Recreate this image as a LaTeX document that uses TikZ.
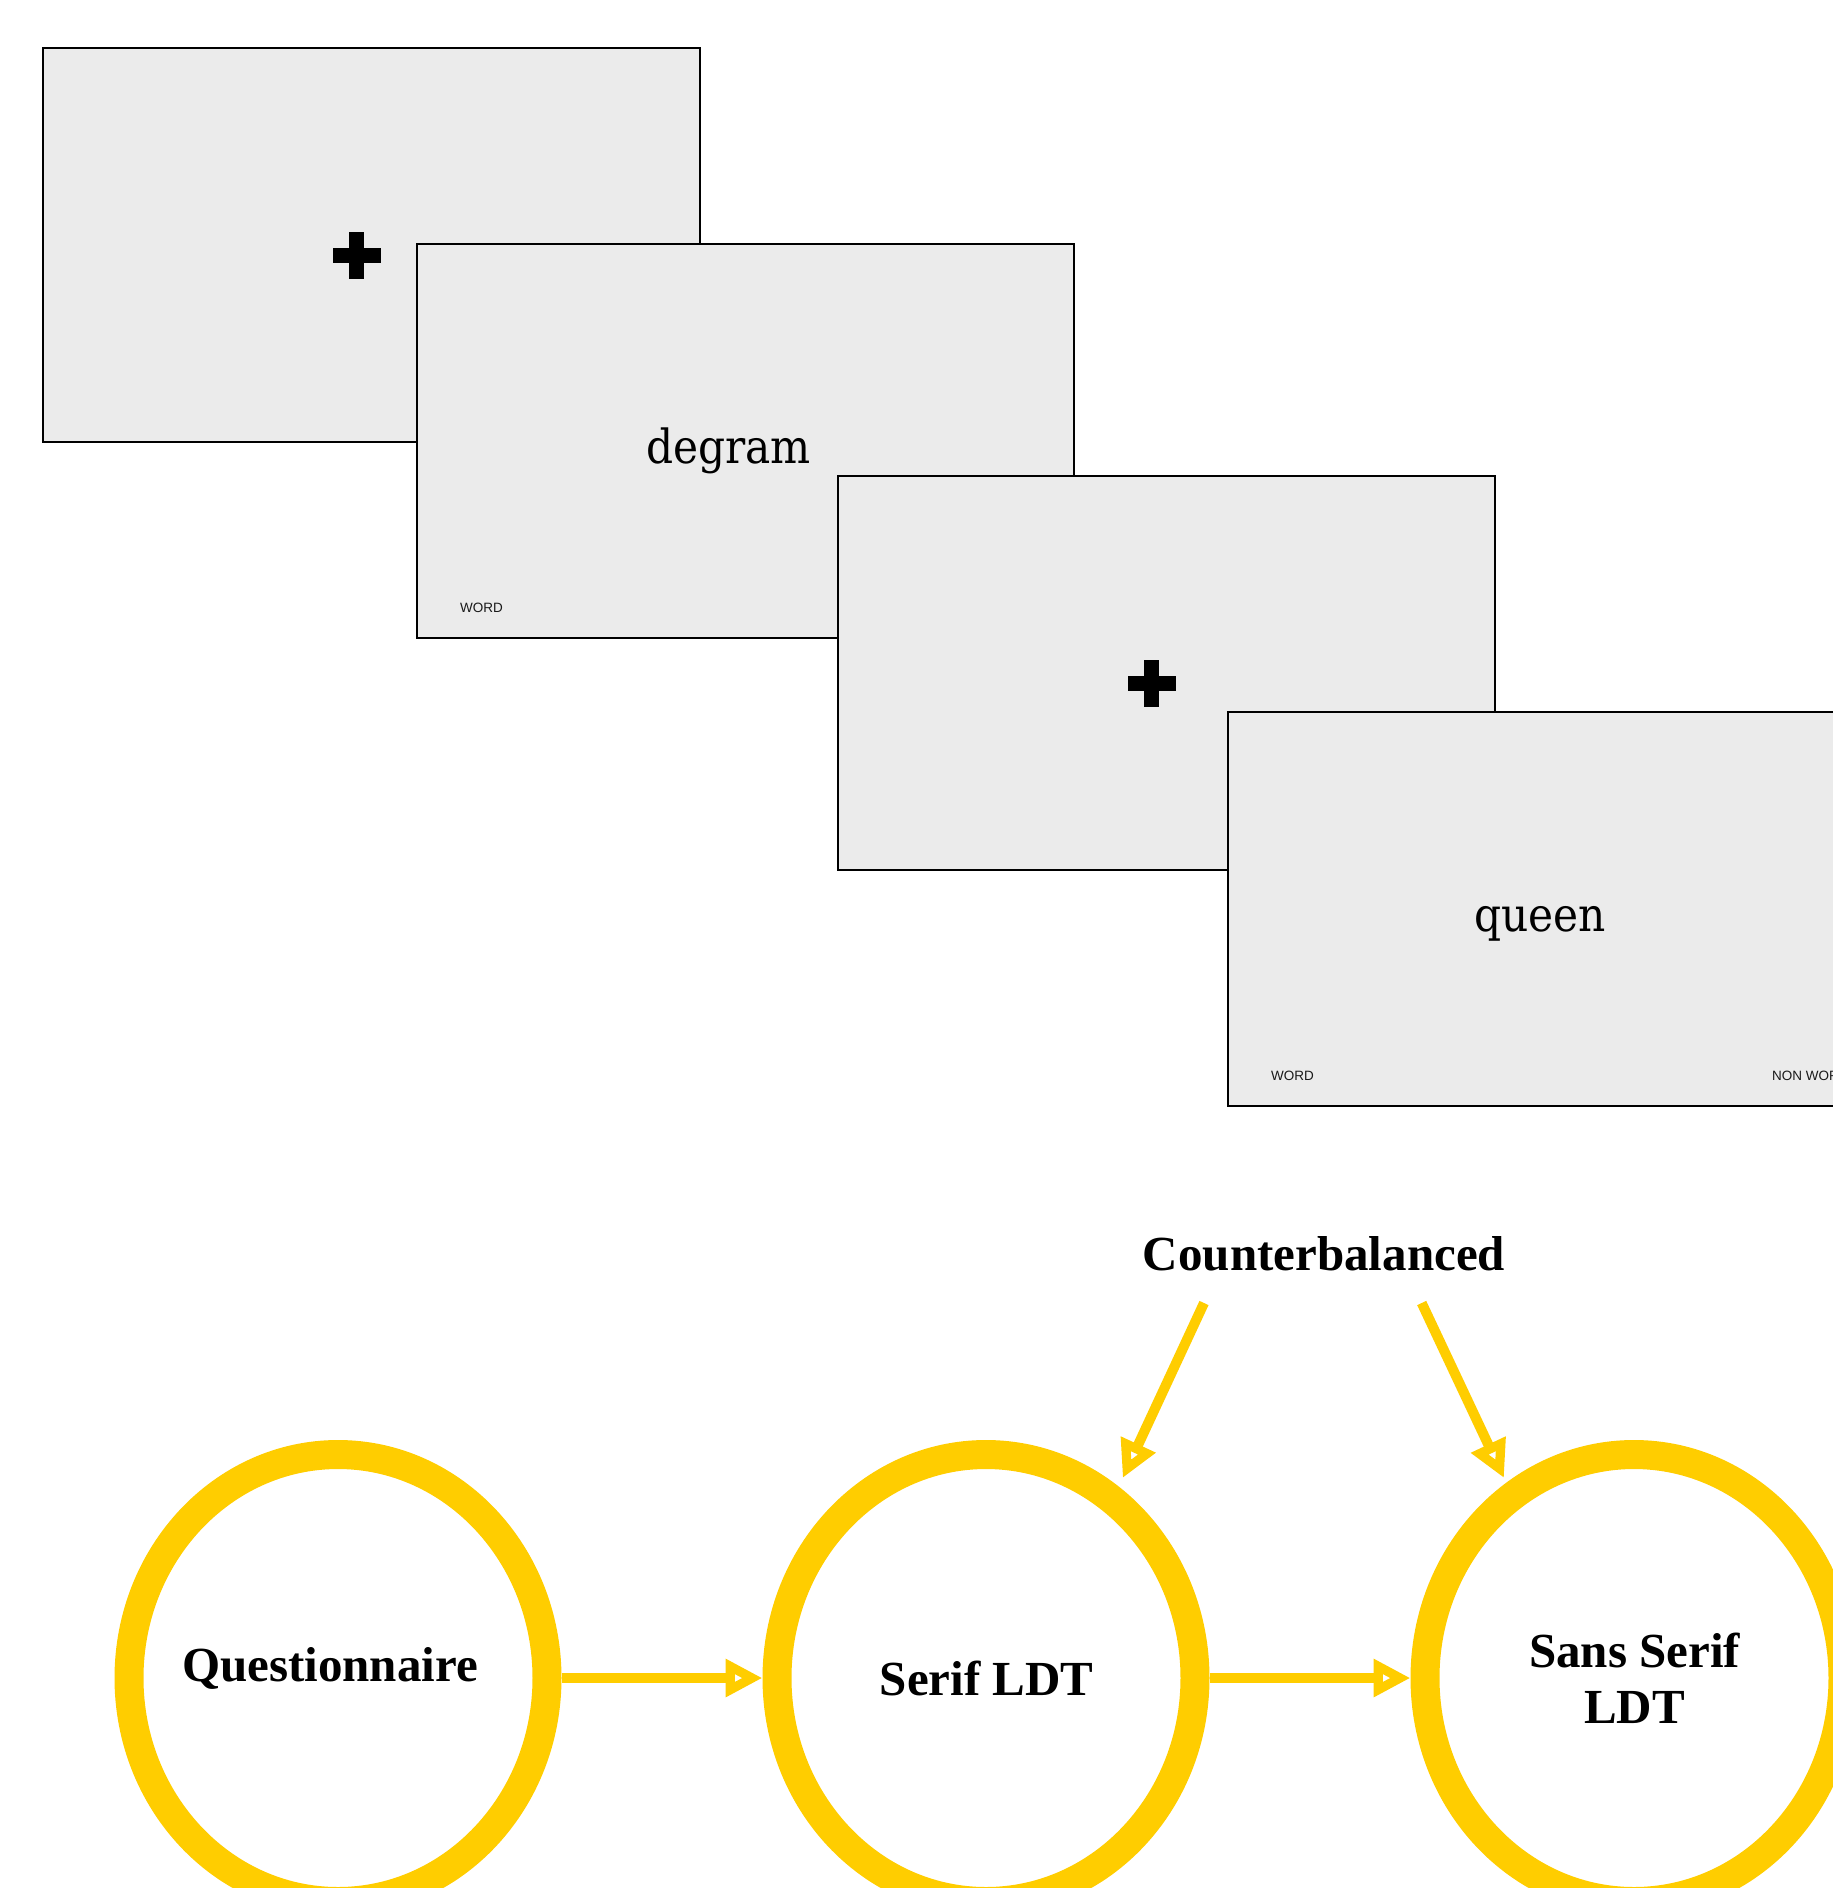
\documentclass[tikz,border=0pt]{standalone}
\usepackage{fontspec}
\setmainfont{Liberation Serif}
\newfontfamily\slidefont{DejaVu Serif Condensed}
\newfontfamily\uifont{Liberation Sans}
\usetikzlibrary{arrows.meta,shapes.geometric}
\definecolor{ylw}{HTML}{FFCD00}
\definecolor{slidegray}{HTML}{EBEBEB}
\begin{document}
\begin{tikzpicture}[x=1pt,y=-1pt,
  slide/.style={draw=black,line width=2pt,fill=slidegray,minimum width=657pt,minimum height=394pt,inner sep=0pt,anchor=north west},
  stim/.style={font=\slidefont\fontsize{47}{56}\selectfont,anchor=base,inner sep=0pt},
  resp/.style={font=\uifont\fontsize{13.5}{16}\selectfont,anchor=west,inner sep=0pt,text=black!90},
  stage/.style={draw=ylw,line width=29pt,ellipse,minimum width=418pt,minimum height=447pt,inner sep=0pt},
  lbl/.style={font=\bfseries\fontsize{49}{56}\selectfont,inner sep=0pt,align=center},
  flow/.style={draw=ylw,line width=10pt,-{Triangle[open,length=37pt,width=36pt]}},
]
\clip (0,0) rectangle (1833,1888);
\fill[white] (0,0) rectangle (1833,1888);
% slide 1
\node[slide] (b1) at (42,47) {};
\coordinate (p1) at ([shift={(314.5,208)}]b1.north west);
\fill (p1) ++(-24,-7.5) rectangle ++(48,15);
\fill (p1) ++(-7.5,-23.5) rectangle ++(15,47);
% slide 2
\node[slide] (b2) at (415.5,243) {};
\node[stim] (w1) at ([shift={(313,220)}]b2.north west) {degram};
\node[resp] (r1) at ([shift={(44.5,365)}]b2.north west) {WORD};
% slide 3
\node[slide] (b3) at (837,474.5) {};
\coordinate (p2) at ([shift={(314.5,208.5)}]b3.north west);
\fill (p2) ++(-24,-7.5) rectangle ++(48,15);
\fill (p2) ++(-7.5,-23.5) rectangle ++(15,47);
% slide 4
\node[slide] (b4) at (1227,710.5) {};
\node[stim] (w2) at ([shift={(313,220.5)}]b4.north west) {queen};
\node[resp] (r2) at ([shift={(44,365.5)}]b4.north west) {WORD};
\node[resp] (r3) at ([shift={(545,365.5)}]b4.north west) {NON WORD};
% stages
\node[stage] (c1) at (338,1678) {};
\node[stage] (c2) at (986,1678) {};
\node[stage] (c3) at (1634,1678) {};
\node[lbl,anchor=base] (l1) at (330,1681.7) {Questionnaire};
\node[lbl,anchor=base] (l2) at (986.7,1695) {Serif LDT};
\node[lbl] (l3) at (1634.5,1678) {Sans Serif\\LDT};
\draw[flow] (c1) -- (c2);
\draw[flow] (c2) -- (c3);
% counterbalanced
\node[lbl,anchor=base] (cb) at (1324,1270.7) {Counterbalanced};
\coordinate (s1) at (1204,1303);
\coordinate (t1) at (1122.7,1478);
\coordinate (s2) at (1421.7,1303);
\coordinate (t2) at (1504,1478);
\draw[flow] (s1) -- (t1);
\draw[flow] (s2) -- (t2);
\end{tikzpicture}
\end{document}
